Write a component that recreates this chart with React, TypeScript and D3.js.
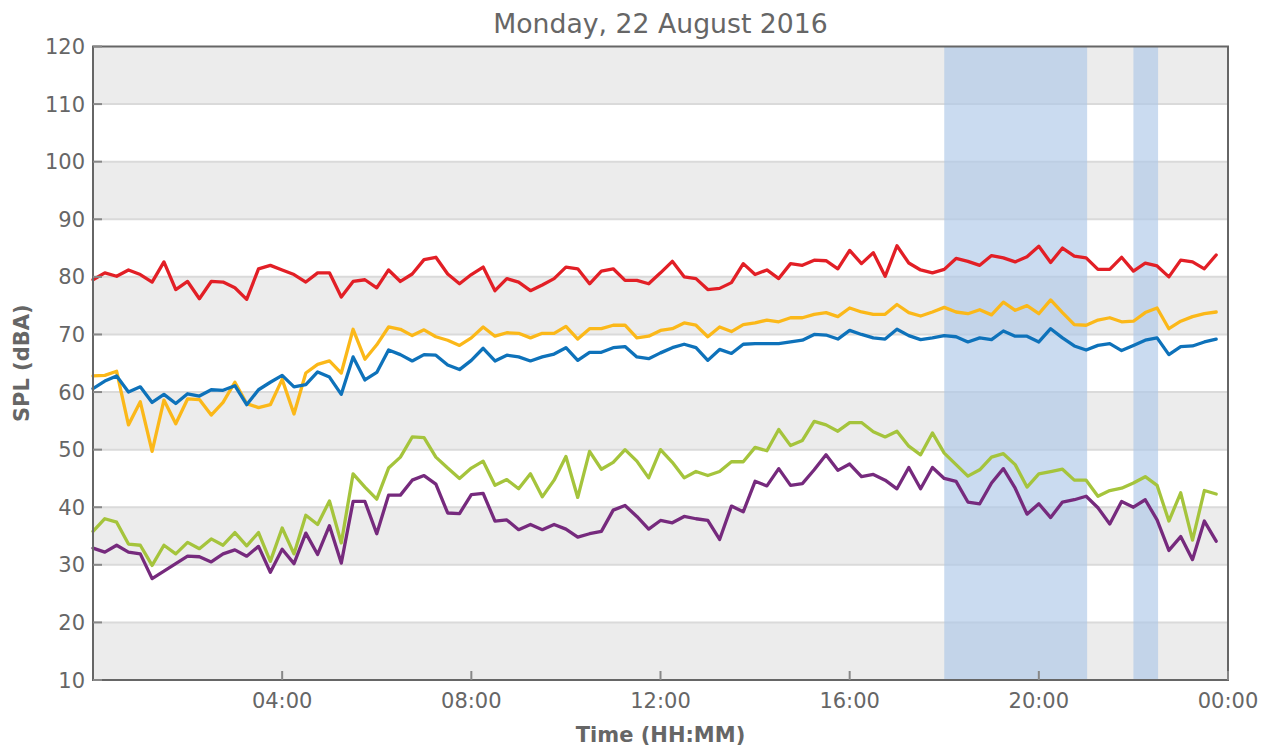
import React, { useEffect, useRef } from 'react';
import * as d3 from 'd3';

// 15-minute SPL readings, 00:00 -> 23:45
const red = [
  79.5, 80.7, 80.1, 81.2, 80.4, 79.1, 82.6, 77.8, 79.2, 76.2, 79.2, 79.1, 78.1, 76.1, 81.4, 82.0, 81.2, 80.4, 79.1, 80.7, 80.7, 76.5, 79.2, 79.5, 78.1,
  81.2, 79.2, 80.5, 83.0, 83.4, 80.5, 78.8, 80.4, 81.7, 77.6, 79.7, 79.1, 77.6, 78.6, 79.7, 81.7, 81.4, 78.8, 81.0, 81.4, 79.4, 79.4, 78.8, 80.7,
  82.7, 80.0, 79.7, 77.8, 78.0, 79.0, 82.3, 80.4, 81.2, 79.7, 82.3, 82.0, 82.9, 82.8, 81.4, 84.6, 82.3, 84.2, 80.1, 85.4, 82.4, 81.2, 80.7, 81.3,
  83.2, 82.7, 82.0, 83.7, 83.3, 82.6, 83.5, 85.3, 82.5, 85.0, 83.6, 83.3, 81.3, 81.3, 83.4, 81.0, 82.4, 81.9, 80.0, 82.9, 82.6, 81.4, 83.8
];
const yellow = [
  62.8, 62.9, 63.6, 54.3, 58.3, 49.7, 58.6, 54.5, 58.8, 58.7, 56.0, 58.2, 61.7, 58.0, 57.3, 57.8, 62.2, 56.2, 63.3, 64.8, 65.4, 63.3, 70.9, 65.7, 68.2,
  71.3, 70.9, 69.8, 70.8, 69.6, 69.0, 68.1, 69.4, 71.3, 69.7, 70.3, 70.2, 69.4, 70.2, 70.2, 71.4, 69.2, 71.0, 71.0, 71.6, 71.6, 69.4, 69.7, 70.7,
  71.0, 72.0, 71.6, 69.6, 71.3, 70.5, 71.7, 72.0, 72.5, 72.2, 72.9, 72.9, 73.5, 73.8, 73.1, 74.6, 73.9, 73.5, 73.5, 75.2, 73.8, 73.2, 73.9, 74.7,
  73.9, 73.6, 74.3, 73.4, 75.6, 74.2, 75.0, 73.6, 76.0, 73.8, 71.7, 71.6, 72.5, 72.9, 72.2, 72.3, 73.8, 74.6, 71.0, 72.3, 73.1, 73.6, 73.9
];
const blue = [
  60.6, 61.9, 62.8, 60.0, 60.9, 58.2, 59.6, 58.0, 59.7, 59.3, 60.4, 60.3, 61.1, 57.8, 60.4, 61.7, 62.9, 60.9, 61.3, 63.5, 62.6, 59.6, 66.1, 62.1, 63.4,
  67.3, 66.5, 65.4, 66.5, 66.4, 64.7, 63.9, 65.5, 67.6, 65.4, 66.4, 66.1, 65.4, 66.1, 66.6, 67.7, 65.5, 66.9, 66.9, 67.7, 67.9, 66.1, 65.8, 66.8,
  67.7, 68.3, 67.7, 65.5, 67.4, 66.7, 68.3, 68.4, 68.4, 68.4, 68.7, 69.0, 70.0, 69.9, 69.2, 70.7, 70.0, 69.4, 69.2, 70.9, 69.8, 69.1, 69.4, 69.8,
  69.6, 68.7, 69.4, 69.1, 70.6, 69.7, 69.7, 68.7, 71.0, 69.4, 68.0, 67.3, 68.1, 68.4, 67.2, 68.1, 69.0, 69.4, 66.5, 67.9, 68.0, 68.7, 69.2
];
const green = [
  35.8, 38.0, 37.4, 33.6, 33.4, 29.9, 33.4, 31.9, 33.9, 32.8, 34.5, 33.4, 35.6, 33.3, 35.6, 30.6, 36.4, 31.9, 38.6, 37.0, 41.1, 33.8, 45.8, 43.5, 41.4,
  46.8, 48.7, 52.2, 52.1, 48.7, 46.8, 45.0, 46.8, 48.0, 43.8, 44.8, 43.2, 45.8, 41.8, 44.7, 48.8, 41.7, 49.7, 46.6, 47.8, 50.0, 48.0, 45.1, 50.0,
  47.8, 45.1, 46.2, 45.5, 46.2, 47.9, 47.9, 50.4, 49.8, 53.5, 50.7, 51.6, 54.9, 54.3, 53.2, 54.7, 54.7, 53.1, 52.2, 53.2, 50.6, 49.1, 52.9, 49.4,
  47.4, 45.4, 46.5, 48.7, 49.3, 47.4, 43.5, 45.8, 46.2, 46.6, 44.7, 44.7, 41.9, 42.9, 43.3, 44.2, 45.3, 43.8, 37.6, 42.5, 34.3, 42.9, 42.3
];
const purple = [
  32.9, 32.2, 33.4, 32.2, 31.9, 27.6, 28.9, 30.2, 31.5, 31.4, 30.5, 31.9, 32.6, 31.5, 33.2, 28.7, 32.7, 30.2, 35.5, 31.8, 36.8, 30.3, 41.0, 41.0, 35.4,
  42.1, 42.1, 44.7, 45.5, 44.0, 39.0, 38.9, 42.2, 42.4, 37.6, 37.8, 36.1, 37.0, 36.1, 37.0, 36.2, 34.8, 35.4, 35.8, 39.5, 40.3, 38.4, 36.2, 37.7,
  37.3, 38.4, 38.0, 37.7, 34.4, 40.2, 39.2, 44.5, 43.7, 46.7, 43.8, 44.1, 46.5, 49.1, 46.4, 47.5, 45.3, 45.7, 44.7, 43.2, 46.9, 43.2, 46.9, 45.0,
  44.5, 40.9, 40.6, 44.2, 46.7, 43.3, 38.8, 40.6, 38.2, 40.9, 41.3, 41.9, 39.9, 37.1, 41.0, 40.0, 41.3, 37.8, 32.5, 34.9, 30.9, 37.6, 34.1
];

const seriesList = [red, yellow, blue, green, purple];
const seriesColors = ['#e21f26', '#fbb819', '#0e72ba', '#a5c43c', '#762a7d'];

const day = new Date(2016, 7, 22, 0, 0);
const times = red.map((_, i) => d3.timeMinute.offset(day, i * 15));
const shadedPeriods = [['18:00', '21:00'], ['22:00', '22:30']];
const yTicks = [10, 20, 30, 40, 50, 60, 70, 80, 90, 100, 110, 120];
const xTicks = [4, 8, 12, 16, 20, 24];

const FONT = '"DejaVu Sans", sans-serif';

const App = () => {
  const ref = useRef(null);

  useEffect(() => {
    drawChart();
  }, []);

  const drawChart = () => {
    const svg = d3.select(ref.current);
    svg.selectAll('*').remove();

    const left = 93, right = 1228, top = 46.5, bottom = 680;
    const parse = d3.timeParse('%H:%M');
    const atDay = (s) => {
      const t = parse(s);
      return new Date(2016, 7, 22, t.getHours(), t.getMinutes());
    };

    const x = d3.scaleTime().domain([day, d3.timeDay.offset(day, 1)]).range([left, right]);
    const y = d3.scaleLinear().domain([10, 120]).range([bottom, top]);

    // alternating bands
    svg.append('g').selectAll('rect')
      .data(yTicks.filter((v, i) => i % 2 === 0 && v < 120))
      .enter().append('rect')
      .attr('x', left).attr('width', right - left)
      .attr('y', d => y(d + 10)).attr('height', d => y(d) - y(d + 10))
      .attr('fill', '#ececec');

    // grid
    svg.append('g').selectAll('line')
      .data(yTicks.filter(v => v > 10 && v < 120))
      .enter().append('line')
      .attr('x1', left).attr('x2', right)
      .attr('y1', d => y(d)).attr('y2', d => y(d))
      .attr('stroke', '#dadada').attr('stroke-width', 2);

    // shaded periods
    svg.append('g').selectAll('rect')
      .data(shadedPeriods)
      .enter().append('rect')
      .attr('x', d => x(atDay(d[0])))
      .attr('width', d => x(atDay(d[1])) - x(atDay(d[0])) + 1)
      .attr('y', top).attr('height', bottom - top)
      .attr('fill', '#aec7e8').attr('opacity', 0.65);

    const line = d3.line()
      .x((d, i) => x(times[i]))
      .y(d => y(d));

    seriesList.forEach((s, k) => {
      svg.append('path')
        .datum(s)
        .attr('d', line)
        .attr('fill', 'none')
        .attr('stroke', seriesColors[k])
        .attr('stroke-width', 3.3)
        .attr('stroke-linejoin', 'round')
        .attr('stroke-linecap', 'round');
    });

    // frame
    svg.append('rect')
      .attr('x', left).attr('y', top)
      .attr('width', right - left).attr('height', bottom - top)
      .attr('fill', 'none').attr('stroke', '#666').attr('stroke-width', 2);

    // y ticks
    const yAxis = svg.append('g');
    yAxis.selectAll('line')
      .data(yTicks)
      .enter().append('line')
      .attr('x1', left).attr('x2', left + 9)
      .attr('y1', d => y(d)).attr('y2', d => y(d))
      .attr('stroke', '#888').attr('stroke-width', 2);
    yAxis.selectAll('text')
      .data(yTicks)
      .enter().append('text')
      .attr('x', left - 8).attr('y', d => y(d)).attr('dy', '0.36em')
      .attr('text-anchor', 'end')
      .style('font-family', FONT).style('font-size', '21px')
      .attr('fill', '#666')
      .text(d => d);

    // x ticks
    const xAxis = svg.append('g');
    const fmt = d3.timeFormat('%H:%M');
    xAxis.selectAll('line')
      .data(xTicks)
      .enter().append('line')
      .attr('x1', d => x(d3.timeHour.offset(day, d))).attr('x2', d => x(d3.timeHour.offset(day, d)))
      .attr('y1', bottom).attr('y2', bottom - 9)
      .attr('stroke', '#888').attr('stroke-width', 2);
    xAxis.selectAll('text')
      .data(xTicks)
      .enter().append('text')
      .attr('x', d => x(d3.timeHour.offset(day, d))).attr('y', 708)
      .attr('text-anchor', 'middle')
      .style('font-family', FONT).style('font-size', '21px')
      .attr('fill', '#666')
      .text(d => fmt(d3.timeHour.offset(day, d)));

    // labels
    svg.append('text')
      .attr('x', (left + right) / 2).attr('y', 742)
      .attr('text-anchor', 'middle')
      .style('font-family', FONT).style('font-size', '21px').style('font-weight', 'bold')
      .attr('fill', '#666')
      .text('Time (HH:MM)');

    svg.append('text')
      .attr('transform', `translate(29,${(top + bottom) / 2}) rotate(-90)`)
      .attr('text-anchor', 'middle')
      .style('font-family', FONT).style('font-size', '21px').style('font-weight', 'bold')
      .attr('fill', '#666')
      .text('SPL (dBA)');

    svg.append('text')
      .attr('x', (left + right) / 2).attr('y', 33)
      .attr('text-anchor', 'middle')
      .style('font-family', FONT).style('font-size', '26.7px')
      .attr('fill', '#666')
      .text('Monday, 22 August 2016');
  };

  return (
    <svg ref={ref} width={1275} height={749}
      style={{ position: 'absolute', left: 0, top: 0, background: '#fff' }} />
  );
};

export default App;
